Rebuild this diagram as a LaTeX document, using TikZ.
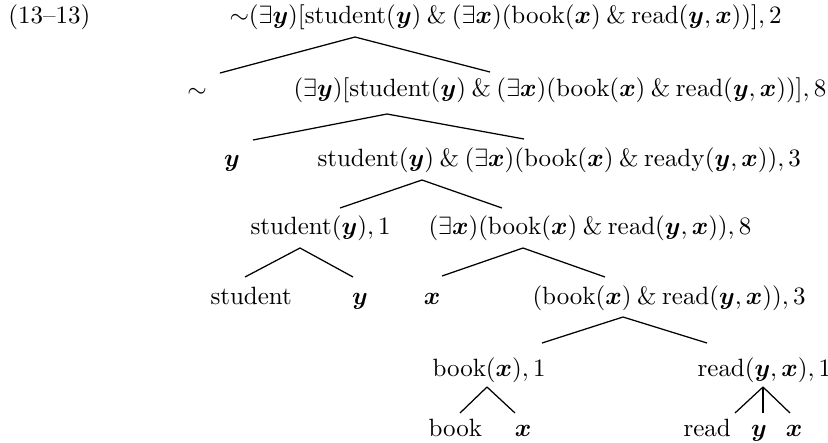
\documentclass[tikz,border=0pt]{standalone}
\usepackage{amsmath,bm}
\begin{document}
\begin{tikzpicture}[x=0.4pt,y=-0.4pt,
  lbl/.style={inner sep=0pt,text height=7.5pt,text depth=2.5pt,anchor=west},
  lblc/.style={inner sep=0pt,text height=7.5pt,text depth=2.5pt,anchor=center},
  branch/.style={line width=0.5pt,line join=round}]
\useasboundingbox (0,0) rectangle (828,442);
\newcommand{\vx}{\bm{x}}
\newcommand{\vy}{\bm{y}}
\newcommand{\rmw}[1]{\mathrm{#1}}
% row 1
\node[lbl] (num) at (8,17) {(13--13)};
\node[lbl] (root) at (229,17) {$\mathord{\sim}(\exists\vy)[\rmw{student}(\vy)\mathbin{\&}(\exists\vx)(\rmw{book}(\vx)\mathbin{\&}\rmw{read}(\vy,\vx))],2$};
% row 2
\node[lblc] (neg) at (197,91) {$\sim$};
\node[lbl] (ey) at (293,90) {$(\exists\vy)[\rmw{student}(\vy)\mathbin{\&}(\exists\vx)(\rmw{book}(\vx)\mathbin{\&}\rmw{read}(\vy,\vx))],8$};
% row 3
\node[lblc] (y1) at (232,160) {$\vy$};
\node[lbl] (conj) at (317,160) {$\rmw{student}(\vy)\mathbin{\&}(\exists\vx)(\rmw{book}(\vx)\mathbin{\&}\rmw{ready}(\vy,\vx)),3$};
% row 4
\node[lbl] (st) at (250,228) {$\rmw{student}(\vy),1$};
\node[lbl] (ex) at (428,228) {$(\exists\vx)(\rmw{book}(\vx)\mathbin{\&}\rmw{read}(\vy,\vx)),8$};
% row 5
\node[lbl] (stw) at (210,298) {student};
\node[lblc] (y2) at (360,298) {$\vy$};
\node[lblc] (x1) at (432,298) {$\vx$};
\node[lbl] (br) at (532,298) {$(\rmw{book}(\vx)\mathbin{\&}\rmw{read}(\vy,\vx)),3$};
% row 6
\node[lbl] (bk) at (432,370) {$\rmw{book}(\vx),1$};
\node[lbl] (rd) at (697,370) {$\rmw{read}(\vy,\vx),1$};
% row 7
\node[lbl] (bkw) at (428,430) {book};
\node[lblc] (x2) at (523,430) {$\vx$};
\node[lbl] (rdw) at (683,430) {read};
\node[lblc] (y3) at (759,430) {$\vy$};
\node[lblc] (x3) at (794,430) {$\vx$};
% branch points
\coordinate (a1) at (355,37); \coordinate (a1l) at (220,73); \coordinate (a1r) at (490,72);
\coordinate (a2) at (387,114); \coordinate (a2l) at (253,140); \coordinate (a2r) at (524,139);
\coordinate (a3) at (422,180); \coordinate (a3l) at (340,208); \coordinate (a3r) at (502,208);
\coordinate (a4) at (300,248); \coordinate (a4l) at (245,277); \coordinate (a4r) at (353,277);
\coordinate (a5) at (523,248); \coordinate (a5l) at (442,276); \coordinate (a5r) at (605,277);
\coordinate (a6) at (623,317); \coordinate (a6l) at (542,343); \coordinate (a6r) at (707,343);
\coordinate (a7) at (487,387); \coordinate (a7l) at (460,413); \coordinate (a7r) at (515,413);
\coordinate (a8) at (763,387); \coordinate (a8l) at (735,413); \coordinate (a8m) at (763,413); \coordinate (a8r) at (790,413);
\draw[branch] (a1l) -- (a1) -- (a1r);
\draw[branch] (a2l) -- (a2) -- (a2r);
\draw[branch] (a3l) -- (a3) -- (a3r);
\draw[branch] (a4l) -- (a4) -- (a4r);
\draw[branch] (a5l) -- (a5) -- (a5r);
\draw[branch] (a6l) -- (a6) -- (a6r);
\draw[branch] (a7l) -- (a7) -- (a7r);
\draw[branch] (a8l) -- (a8) -- (a8r);
\draw[branch] (a8) -- (a8m);
\end{tikzpicture}
\end{document}
